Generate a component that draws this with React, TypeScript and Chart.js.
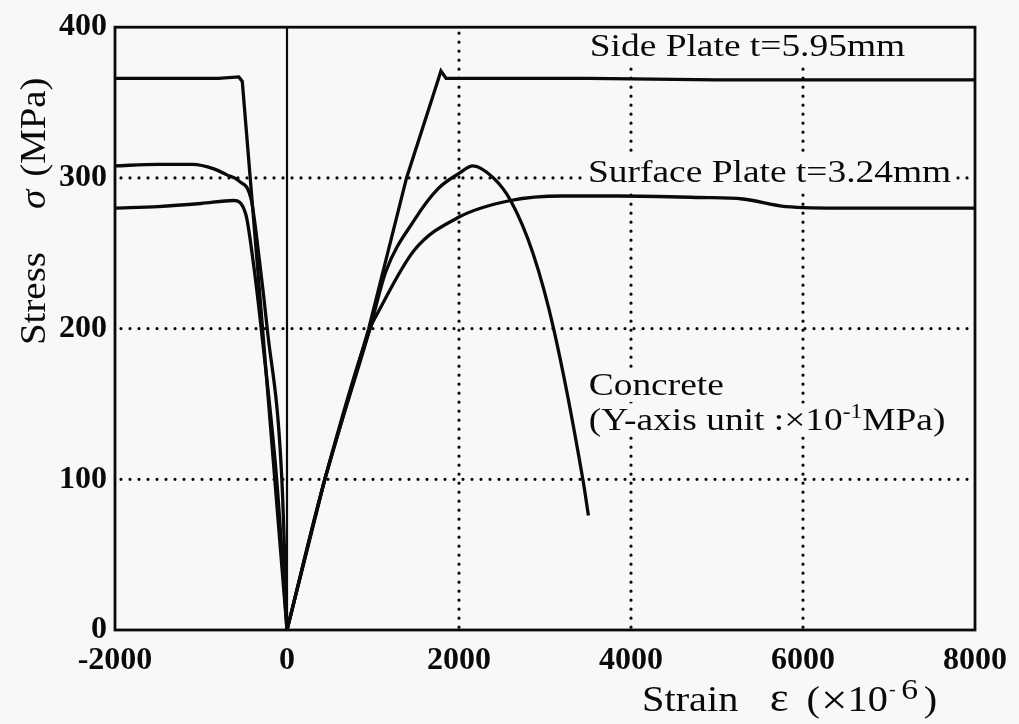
import React, { useEffect, useRef } from "react";
import { Chart, registerables } from "chart.js";

Chart.register(...registerables);

const FONT = "'Liberation Serif', 'Times New Roman', serif";
const BG = "#f8f8f8";
const INK = "#0a0a0a";

// ---- axes ----
const xTickValues = [-2000, 0, 2000, 4000, 6000, 8000];
const yTickValues = [0, 100, 200, 300, 400];
const xDottedGrid = [2000, 4000, 6000];
const yDottedGrid = [100, 200, 300];
const xSolidRef = [0];

// ---- series (strain ×10^-6, stress MPa) ----
const sideLeftStrain = [-2000, -1600, -1200, -800, -560, -520, -284, -142, 0];
const sideLeftStress = [366, 366, 366, 366, 367, 364, 200, 100, 0];
const sideRightStrain = [0, 440, 950, 1390, 1740, 1790, 1850, 2500, 3500, 5000, 6500, 8000];
const sideRightStress = [0, 100, 200, 300, 362, 371, 366, 366, 366, 365, 365, 365];

const surfaceLeftStrain = [-2000, -1500, -1000, -620, -480, -390, -300, -120, 0];
const surfaceLeftStress = [280, 281, 283, 285, 276, 243, 200, 100, 0];
const surfaceRightStrain = [0, 440, 965, 1070, 1480, 2000, 2600, 3200, 3860, 4800, 5300, 5800, 6500, 8000];
const surfaceRightStress = [0, 100, 200, 212, 252, 274, 285, 288, 288, 287, 286, 281, 280, 280];

const concreteLeftStrain = [-2000, -1500, -1100, -850, -700, -560, -414, -320, -230, -60, 0];
const concreteLeftStress = [308, 309, 309, 306, 302, 298, 285, 245, 200, 100, 0];
const concreteRightStrain = [0, 440, 965, 1150, 1480, 1760, 2000, 2160, 2400, 2600, 2860, 3100, 3440, 3505];
const concreteRightStress = [0, 100, 200, 238, 272, 293, 303, 308, 300, 285, 250, 200, 100, 76];

// ---- text ----
type Seg = { t: string; size?: number; rise?: number; italic?: boolean; gap?: number };
const annotations: { segs: Seg[]; x: number; y: number }[] = [
  { segs: [{ t: "Side Plate t=5.95mm" }], x: 3520, y: 381 },
  { segs: [{ t: "Surface Plate t=3.24mm" }], x: 3500, y: 297 },
  { segs: [{ t: "Concrete" }], x: 3508, y: 156 },
  { segs: [{ t: "(Y-axis unit :×10" }, { t: "-1", size: 20, rise: 12 }, { t: "MPa)" }], x: 3508, y: 133 },
];
const xTitle: Seg[] = [
  { t: "Strain" },
  { t: "ε", size: 40, gap: 28 },
  { t: "(", gap: 16 },
  { t: "×", size: 42, rise: -3, gap: 1 },
  { t: "10" },
  { t: "-", size: 18, rise: 16, gap: 1 },
  { t: "6", size: 30, rise: 12, gap: 5 },
  { t: ")", gap: 5 },
];
const yTitle: Seg[] = [
  { t: "Stress" },
  { t: "σ", italic: true, gap: 40 },
  { t: "(MPa)", gap: 12 },
];

const toPoints = (xs: number[], ys: number[]) => xs.map((x, i) => ({ x, y: ys[i] }));

function drawRich(ctx: CanvasRenderingContext2D, segs: Seg[], base: number, sx: number) {
  ctx.save();
  ctx.scale(sx, 1);
  let cx = 0;
  for (const s of segs) {
    cx += s.gap || 0;
    ctx.font = `${s.italic ? "italic " : ""}${s.size || base}px ${FONT}`;
    ctx.fillText(s.t, cx, -(s.rise || 0));
    cx += ctx.measureText(s.t).width;
  }
  ctx.restore();
}
function measureRich(ctx: CanvasRenderingContext2D, segs: Seg[], base: number) {
  let w = 0;
  for (const s of segs) {
    w += s.gap || 0;
    ctx.font = `${s.italic ? "italic " : ""}${s.size || base}px ${FONT}`;
    w += ctx.measureText(s.t).width;
  }
  return w;
}

const ANN_SIZE = 32;
const ANN_SX = 1.17;
const TITLE_SIZE = 36;
const TITLE_SX = 1.12;

const decor = {
  id: "decor",
  beforeDatasetsDraw(chart: any) {
    const { ctx, chartArea: a, scales } = chart;
    const xs = scales.x, ys = scales.y;
    ctx.save();
    ctx.strokeStyle = INK;
    ctx.lineWidth = 3.2;
    ctx.lineCap = "round";
    ctx.setLineDash([0, 9]);
    for (const v of xDottedGrid) {
      const px = xs.getPixelForValue(v);
      ctx.beginPath(); ctx.moveTo(px, a.top + 6); ctx.lineTo(px, a.bottom); ctx.stroke();
    }
    for (const v of yDottedGrid) {
      const py = ys.getPixelForValue(v);
      ctx.beginPath(); ctx.moveTo(a.left + 6, py); ctx.lineTo(a.right, py); ctx.stroke();
    }
    ctx.setLineDash([]);
    ctx.lineCap = "butt";
    ctx.lineWidth = 2.2;
    for (const v of xSolidRef) {
      const px = xs.getPixelForValue(v);
      ctx.beginPath(); ctx.moveTo(px, a.top); ctx.lineTo(px, a.bottom); ctx.stroke();
    }
    // annotation labels with masks
    ctx.textBaseline = "alphabetic";
    ctx.textAlign = "left";
    for (const an of annotations) {
      const px = xs.getPixelForValue(an.x);
      const py = ys.getPixelForValue(an.y);
      const w = measureRich(ctx, an.segs, ANN_SIZE) * ANN_SX;
      ctx.fillStyle = BG;
      ctx.fillRect(px - 3, py - 26, w + 6, 33);
    }
    ctx.fillStyle = INK;
    for (const an of annotations) {
      const px = xs.getPixelForValue(an.x);
      const py = ys.getPixelForValue(an.y);
      ctx.save();
      ctx.translate(px, py);
      drawRich(ctx, an.segs, ANN_SIZE, ANN_SX);
      ctx.restore();
    }
    ctx.restore();
  },
  afterDatasetsDraw(chart: any) {
    const { ctx, chartArea: a } = chart;
    ctx.save();
    ctx.strokeStyle = INK;
    ctx.lineWidth = 2.8;
    ctx.strokeRect(a.left, a.top, a.right - a.left, a.bottom - a.top);
    ctx.restore();
  },
  afterDraw(chart: any) {
    const { ctx } = chart;
    ctx.save();
    ctx.fillStyle = INK;
    ctx.textBaseline = "alphabetic";
    ctx.textAlign = "left";
    // x title
    ctx.save();
    ctx.translate(642, 711);
    drawRich(ctx, xTitle, TITLE_SIZE, TITLE_SX);
    ctx.restore();
    // y title
    ctx.save();
    ctx.translate(45, 345);
    ctx.rotate(-Math.PI / 2);
    drawRich(ctx, yTitle, TITLE_SIZE, 1.08);
    ctx.restore();
    ctx.restore();
  },
};

const line = (xs: number[], ys: number[], smooth: boolean) => ({
  data: toPoints(xs, ys),
  showLine: true,
  borderColor: INK,
  backgroundColor: INK,
  borderWidth: 3.3,
  pointRadius: 0,
  fill: false,
  tension: smooth ? 0.4 : 0,
  cubicInterpolationMode: smooth ? "monotone" : "default",
});

const tickFont = { size: 32, family: FONT, weight: "bold" as const };

export default function App() {
  const ref = useRef<HTMLCanvasElement>(null);
  useEffect(() => {
    const chart = new Chart(ref.current as HTMLCanvasElement, {
      type: "scatter",
      data: {
        datasets: [
          line(sideLeftStrain, sideLeftStress, false),
          line(sideRightStrain, sideRightStress, false),
          line(surfaceLeftStrain, surfaceLeftStress, true),
          line(surfaceRightStrain, surfaceRightStress, true),
          line(concreteLeftStrain, concreteLeftStress, true),
          line(concreteRightStrain, concreteRightStress, true),
        ] as any,
      },
      options: {
        animation: false,
        responsive: false,
        layout: { padding: { top: 20, right: 38, left: 0, bottom: 0 } },
        plugins: { legend: { display: false }, tooltip: { enabled: false } },
        scales: {
          x: {
            type: "linear",
            min: xTickValues[0],
            max: xTickValues[xTickValues.length - 1],
            afterFit: (s: any) => { s.height = 94; },
            afterBuildTicks: (s: any) => { s.ticks = xTickValues.map((v) => ({ value: v })); },
            grid: { display: false, drawTicks: false },
            border: { display: false },
            ticks: {
              color: INK,
              font: tickFont,
              padding: 12,
              maxRotation: 0,
              autoSkip: false,
              callback: (v: any) => String(v),
            },
          },
          y: {
            type: "linear",
            min: yTickValues[0],
            max: yTickValues[yTickValues.length - 1],
            afterFit: (s: any) => { s.width = 115; },
            afterBuildTicks: (s: any) => { s.ticks = yTickValues.map((v) => ({ value: v })); },
            grid: { display: false, drawTicks: false },
            border: { display: false },
            ticks: {
              color: INK,
              font: tickFont,
              padding: 8,
              autoSkip: false,
              callback: (v: any) => String(v),
            },
          },
        },
      },
      plugins: [decor],
    } as any);
    return () => chart.destroy();
  }, []);
  return (
    <div style={{ position: "absolute", left: 0, top: 0, width: 1019, height: 724, background: BG }}>
      <canvas ref={ref} width={1019} height={724} style={{ display: "block", width: 1019, height: 724 }} />
    </div>
  );
}
